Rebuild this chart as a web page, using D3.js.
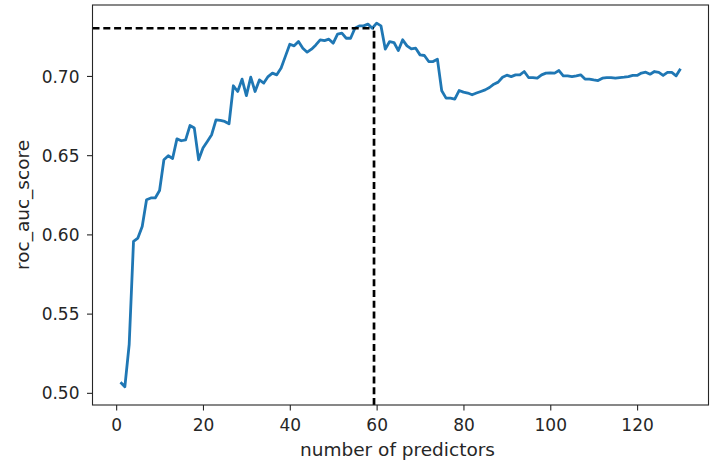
<!DOCTYPE html>
<html>
<head>
<meta charset="utf-8">
<script src="https://cdn.jsdelivr.net/npm/d3@7"></script>
<style>
  body { margin: 0; background: #fff; }
  text { font-family: "DejaVu Sans", sans-serif; fill: #262626; }
</style>
</head>
<body>
<div id="chart"></div>
<script>
// number of predictors 1..130
let predictors = d3.range(1, 131);

// roc_auc_score, one value per predictor count
let scores = [
  0.5067, 0.5038, 0.5305, 0.5956, 0.5977, 0.6050, 0.6219, 0.6230, 0.6230, 0.6277,
  0.6471, 0.6496, 0.6479, 0.6603, 0.6591, 0.6597, 0.6687, 0.6671, 0.6471, 0.6545,
  0.6586, 0.6629, 0.6723, 0.6719, 0.6713, 0.6698, 0.6938, 0.6902, 0.6980, 0.6876,
  0.6992, 0.6902, 0.6975, 0.6955, 0.6996, 0.7018, 0.7007, 0.7050, 0.7125, 0.7200,
  0.7190, 0.7217, 0.7175, 0.7150, 0.7169, 0.7196, 0.7228, 0.7223, 0.7232, 0.7207,
  0.7264, 0.7270, 0.7238, 0.7238, 0.7301, 0.7316, 0.7316, 0.7327, 0.7301, 0.7333,
  0.7316, 0.7169, 0.7217, 0.7211, 0.7160, 0.7228, 0.7190, 0.7171, 0.7175, 0.7133,
  0.7129, 0.7091, 0.7091, 0.7106, 0.6906, 0.6860, 0.6860, 0.6854, 0.6908, 0.6898,
  0.6892, 0.6881, 0.6892, 0.6902, 0.6912, 0.6927, 0.6948, 0.6961, 0.6992, 0.7005,
  0.6996, 0.7007, 0.7007, 0.7028, 0.6990, 0.6990, 0.6986, 0.7007, 0.7018, 0.7020,
  0.7018, 0.7034, 0.7001, 0.7001, 0.6996, 0.7001, 0.7007, 0.6980, 0.6980, 0.6975,
  0.6971, 0.6986, 0.6990, 0.6990, 0.6986, 0.6990, 0.6992, 0.6996, 0.7003, 0.7003,
  0.7018, 0.7024, 0.7011, 0.7028, 0.7022, 0.7003, 0.7022, 0.7022, 0.7001, 0.7045
];

// best point marked by the dashed guide lines
let bestN = 59.4;
let bestScore = 0.7301;

let xTicks = [0, 20, 40, 60, 80, 100, 120];
let yTicks = [0.50, 0.55, 0.60, 0.65, 0.70];

let svgWidth = 710;
let svgHeight = 462;

let margin = { top: 5, right: 1.5, bottom: 57, left: 92.5 };
let width = svgWidth - margin.left - margin.right;
let height = svgHeight - margin.top - margin.bottom;

let svg = d3.select("#chart")
  .append("svg")
  .attr("width", svgWidth)
  .attr("height", svgHeight);

let chartGroup = svg.append("g")
  .attr("transform", `translate(${margin.left}, ${margin.top})`);

// matplotlib-like 5% padding on both axes
let xExt = d3.extent(predictors);
let xPad = (xExt[1] - xExt[0]) * 0.05;
let yExt = d3.extent(scores);
let yPad = (yExt[1] - yExt[0]) * 0.05;

let xScale = d3.scaleLinear()
  .domain([xExt[0] - xPad, xExt[1] + xPad])
  .range([0, width]);

let yScale = d3.scaleLinear()
  .domain([yExt[0] - yPad, yExt[1] + yPad])
  .range([height, 0]);

// the curve
let line = d3.line()
  .x((d, i) => xScale(predictors[i]))
  .y(d => yScale(d));

chartGroup.append("path")
  .datum(scores)
  .attr("d", line)
  .attr("fill", "none")
  .attr("stroke", "#1f77b4")
  .attr("stroke-width", 2.8)
  .attr("stroke-linejoin", "round")
  .attr("stroke-linecap", "butt");

// dashed guides
chartGroup.append("line")
  .attr("x1", xScale(xScale.domain()[0]))
  .attr("x2", xScale(bestN))
  .attr("y1", yScale(bestScore))
  .attr("y2", yScale(bestScore))
  .attr("stroke", "#000")
  .attr("stroke-width", 2.7)
  .attr("stroke-dasharray", "7,3.8");

chartGroup.append("line")
  .attr("x1", xScale(bestN))
  .attr("x2", xScale(bestN))
  .attr("y1", height)
  .attr("y2", yScale(bestScore))
  .attr("stroke", "#000")
  .attr("stroke-width", 2.7)
  .attr("stroke-dasharray", "7,3.8");

// axes
let bottomAxis = d3.axisBottom(xScale)
  .tickValues(xTicks)
  .tickFormat(d3.format("d"))
  .tickSize(5.5)
  .tickPadding(8);

let leftAxis = d3.axisLeft(yScale)
  .tickValues(yTicks)
  .tickFormat(d3.format(".2f"))
  .tickSize(5.5)
  .tickPadding(7.5);

let xAxis = chartGroup.append("g")
  .attr("transform", `translate(0, ${height})`)
  .call(bottomAxis);

let yAxis = chartGroup.append("g")
  .call(leftAxis);

[xAxis, yAxis].forEach(function(ax) {
  ax.select(".domain").remove();
  ax.selectAll(".tick line").attr("stroke", "#262626").attr("stroke-width", 1.1);
  ax.selectAll(".tick text")
    .attr("font-size", "17px")
    .attr("font-family", "DejaVu Sans, sans-serif")
    .attr("fill", "#262626");
});

yAxis.selectAll(".tick text").attr("dy", "0.36em");

// frame
chartGroup.append("rect")
  .attr("x", 0)
  .attr("y", 0)
  .attr("width", width)
  .attr("height", height)
  .attr("fill", "none")
  .attr("stroke", "#262626")
  .attr("stroke-width", 1.1);

// axis labels
svg.append("text")
  .attr("x", margin.left + width / 2 - 3)
  .attr("y", 456)
  .attr("text-anchor", "middle")
  .attr("font-size", "18.5px")
  .text("number of predictors");

svg.append("text")
  .attr("transform", `translate(29, ${margin.top + height / 2}) rotate(-90)`)
  .attr("text-anchor", "middle")
  .attr("font-size", "18.5px")
  .text("roc_auc_score");
</script>
</body>
</html>
